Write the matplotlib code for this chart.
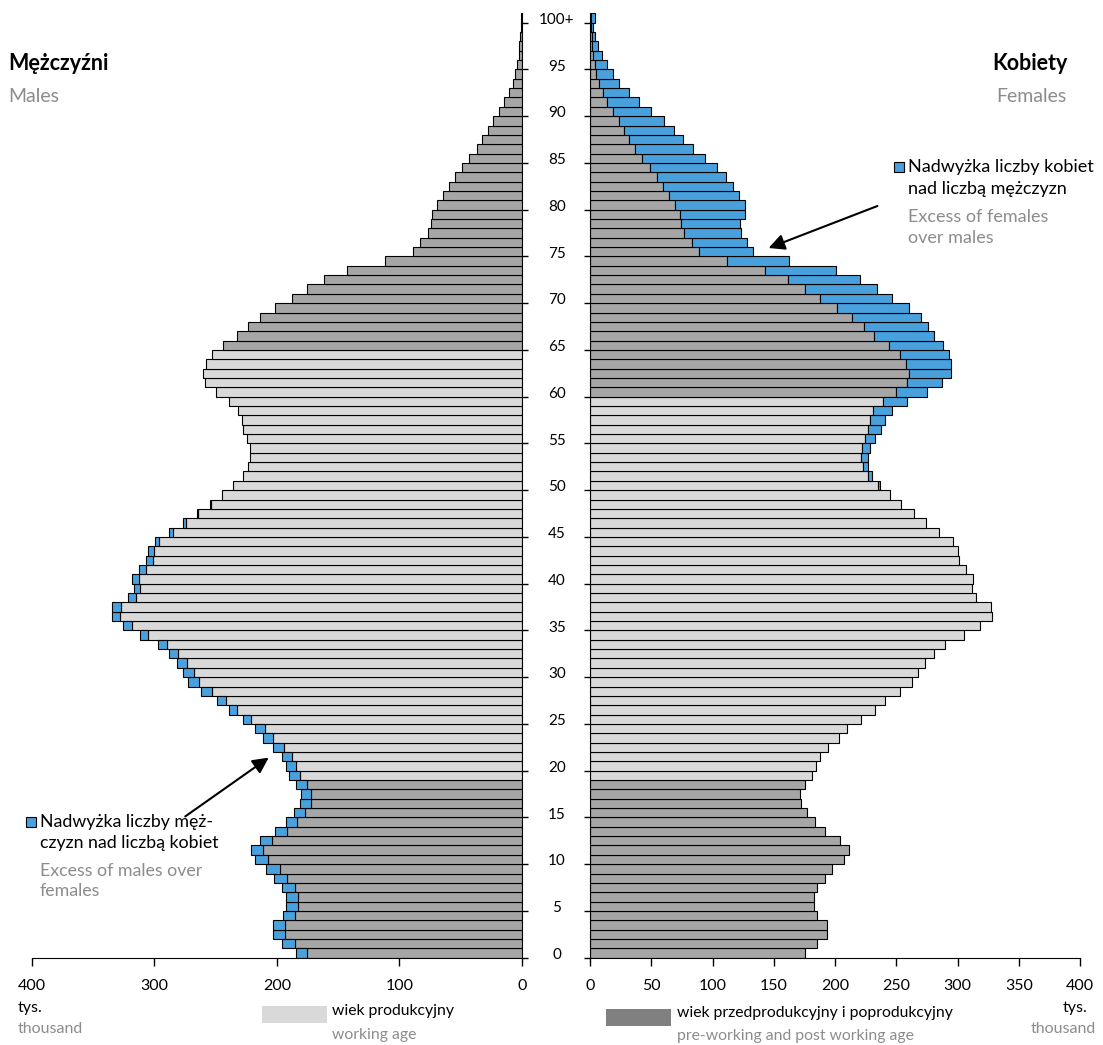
# -*- coding: utf-8 -*-
#%% Importy

import numpy as np
import matplotlib
matplotlib.use('Agg')
import matplotlib.pyplot as plt
from matplotlib.patches import FancyArrowPatch, Rectangle
from matplotlib.transforms import blended_transform_factory

#%% Dane (tys.)

wiek = np.arange(0, 101)

mezczyzni = [184, 195.4, 203.4, 202.8, 195, 192.7, 192.2, 195.4, 202, 208.5,
             217.5, 221.3, 213.7, 201.2, 192.2, 185.6, 181.3, 180.5, 184, 189.7,
             192.7, 196, 203.1, 211.3, 217.8, 227.3, 239.3, 248.9, 261.7, 272.3,
             276.4, 281.6, 288.1, 296.8, 311.6, 325.4, 334.7, 334.4, 321.7, 316.8,
             318.4, 312.7, 306.6, 305.3, 299.8, 288.4, 276.9, 265.3, 254.3, 244.5,
             235.5, 227.3, 223.2, 221.6, 221.9, 224.6, 227.3, 228.5, 231.4, 238.8,
             249.7, 258.4, 260.3, 257.6, 253, 244, 232.2, 223.5, 213.7, 201.7,
             187.6, 175.3, 161.4, 142.6, 112, 88.6, 82.9, 76.9, 73.9, 73.1,
             69.5, 64.3, 59.7, 54.8, 49.1, 42.8, 36.8, 32.2, 27.8, 23.5,
             18.8, 14.2, 10.4, 7.4, 5.2, 3.8, 2.5, 1.9, 1.4, 0.8,
             0.6]

kobiety = [175.2, 185.3, 193.2, 193.2, 185.3, 182.8, 182.6, 185.5, 191.8, 197.8,
           207.3, 211.6, 204, 192, 183.6, 177.1, 172.2, 171.7, 175.6, 181.2,
           184.5, 187.5, 194.5, 202.9, 210, 220.9, 232.3, 241.2, 252.9, 263.2,
           267.9, 273.8, 280.6, 289.6, 305.1, 318.1, 328.2, 327.4, 314.9, 311.6,
           312.9, 306.7, 301.3, 300.7, 296.1, 285.2, 274.4, 264.1, 254, 244.5,
           236.6, 230, 226.6, 226.8, 228.5, 232.3, 237.4, 241.2, 246.9, 258.9,
           274.9, 287.4, 294.5, 294.5, 293.4, 288.5, 280.6, 276.3, 270, 260.2,
           246.4, 234.4, 220.3, 201, 162.4, 133.1, 128.2, 123.1, 122.8, 126.3,
           126.3, 121.4, 116.5, 111.4, 103.8, 94, 83.7, 75.8, 68.7, 60.3,
           50, 40.2, 31.5, 23.9, 18.7, 13.9, 9.8, 6.8, 4.1, 2.7,
           4.1]

etykiety_wieku = ['0', '5', '10', '15', '20', '25', '30', '35', '40', '45', '50',
                  '55', '60', '65', '70', '75', '80', '85', '90', '95', '100+']
ticki_m = [400, 300, 200, 100, 0]
ticki_k = [0, 50, 100, 150, 200, 250, 300, 350, 400]

#%% Ustawienia

plt.rcParams['font.family'] = ['Lato', 'DejaVu Sans']

JASNY = '#d9d9d9'
CIEMNY = '#a6a6a6'
CIEMNY_LEG = '#808080'
NIEBIESKI = '#48a0dc'
SZARY_TXT = '#8c8c8c'

W, H = 1103, 1045

def fx(x):
    return x / W

def fy(y):
    return 1 - y / H

m = np.array(mezczyzni)
k = np.array(kobiety)
wspolne = np.minimum(m, k)
nad_m = m - wspolne
nad_k = k - wspolne

prod_m = (wiek >= 19) & (wiek <= 64)
prod_k = (wiek >= 19) & (wiek <= 59)

#%% Wykres

fig = plt.figure(figsize=(W / 100, H / 100), dpi=100)
y0, y1 = 957.7, 13.3
ax_m = fig.add_axes([fx(32), fy(y0), (521.7 - 32) / W, (y0 - y1) / H])
ax_k = fig.add_axes([fx(590), fy(y0), 490 / W, (y0 - y1) / H])

for ax, prod, nad in [(ax_m, prod_m, nad_m), (ax_k, prod_k, nad_k)]:
    kolory = np.where(prod, JASNY, CIEMNY)
    ax.barh(wiek, wspolne, height=1, color=kolory, edgecolor='black', linewidth=0.8)
    sel = nad > 0
    ax.barh(wiek[sel], nad[sel], left=wspolne[sel], height=1, color=NIEBIESKI,
            edgecolor='black', linewidth=0.8)
    ax.set_ylim(-0.5, 100.5)
    ax.set_yticks([int(e.rstrip('+')) - 0.5 for e in etykiety_wieku])
    ax.set_yticklabels([])
    ax.spines['top'].set_visible(False)
    ax.tick_params(axis='x', direction='out', length=6, width=1, pad=9, labelsize=11.5)
    ax.tick_params(axis='y', direction='out', length=4.5, width=1)

ax_m.set_xlim(400, 0)
ax_m.set_xticks(ticki_m)
ax_m.spines['left'].set_visible(False)
ax_m.yaxis.tick_right()

ax_k.set_xlim(0, 400)
ax_k.set_xticks(ticki_k)
ax_k.spines['right'].set_visible(False)

# etykiety wieku pośrodku
trans = blended_transform_factory(fig.transFigure, ax_k.transData)
for e in etykiety_wieku:
    ax_k.text(fx(557), int(e.rstrip('+')) - 0.2, e, transform=trans, ha='center',
              va='center', fontsize=11, clip_on=False)

#%% Opisy

fig.text(fx(8), fy(63), 'Mężczyźni', fontsize=15.5, fontweight='bold', va='center')
fig.text(fx(8), fy(97), 'Males', fontsize=14, color=SZARY_TXT, va='center')
fig.text(fx(1068), fy(63), 'Kobiety', fontsize=15.5, fontweight='bold', va='center', ha='right')
fig.text(fx(1067), fy(97), 'Females', fontsize=14, color=SZARY_TXT, va='center', ha='right')

# adnotacja - kobiety
fig.add_artist(Rectangle((fx(894), fy(172)), 10 / W, 10 / H, transform=fig.transFigure,
                         facecolor=NIEBIESKI, edgecolor='black', linewidth=0.8))
fig.text(fx(908), fy(167), 'Nadwyżka liczby kobiet', fontsize=13, va='center')
fig.text(fx(908), fy(189), 'nad liczbą mężczyzn', fontsize=13, va='center')
fig.text(fx(908), fy(217), 'Excess of females', fontsize=13, va='center', color=SZARY_TXT)
fig.text(fx(908), fy(238), 'over males', fontsize=13, va='center', color=SZARY_TXT)
fig.add_artist(FancyArrowPatch((fx(880), fy(205)), (fx(766), fy(249)),
                               transform=fig.transFigure, arrowstyle='-|>',
                               mutation_scale=24, color='black', linewidth=1.5))

# adnotacja - mężczyźni
fig.add_artist(Rectangle((fx(26), fy(827)), 10 / W, 10 / H, transform=fig.transFigure,
                         facecolor=NIEBIESKI, edgecolor='black', linewidth=0.8))
fig.text(fx(40), fy(822), 'Nadwyżka liczby męż-', fontsize=12.8, va='center')
fig.text(fx(40), fy(843), 'czyzn nad liczbą kobiet', fontsize=12.8, va='center')
fig.text(fx(40), fy(871), 'Excess of males over', fontsize=12.8, va='center', color=SZARY_TXT)
fig.text(fx(40), fy(891), 'females', fontsize=12.8, va='center', color=SZARY_TXT)
fig.add_artist(FancyArrowPatch((fx(183), fy(818)), (fx(271), fy(756)),
                               transform=fig.transFigure, arrowstyle='-|>',
                               mutation_scale=24, color='black', linewidth=1.5))

# jednostki
fig.text(fx(18), fy(1008), 'tys.', fontsize=11.5, va='center')
fig.text(fx(18), fy(1029), 'thousand', fontsize=11.5, va='center', color=SZARY_TXT)
fig.text(fx(1087), fy(1008), 'tys.', fontsize=11.5, va='center', ha='right')
fig.text(fx(1096), fy(1029), 'thousand', fontsize=11.5, va='center', ha='right', color=SZARY_TXT)

# legenda
fig.add_artist(Rectangle((fx(262), fy(1023)), 65 / W, 17 / H, transform=fig.transFigure,
                         facecolor=JASNY, edgecolor='none'))
fig.text(fx(332), fy(1011), 'wiek produkcyjny', fontsize=11.3, va='center')
fig.text(fx(332), fy(1035), 'working age', fontsize=11.3, va='center', color=SZARY_TXT)
fig.add_artist(Rectangle((fx(606), fy(1026)), 65 / W, 17 / H, transform=fig.transFigure,
                         facecolor=CIEMNY_LEG, edgecolor='none'))
fig.text(fx(677), fy(1013), 'wiek przedprodukcyjny i poprodukcyjny', fontsize=11.3, va='center')
fig.text(fx(677), fy(1036), 'pre-working and post working age', fontsize=11.3, va='center',
         color=SZARY_TXT)

fig.savefig('out.png', dpi=100)
